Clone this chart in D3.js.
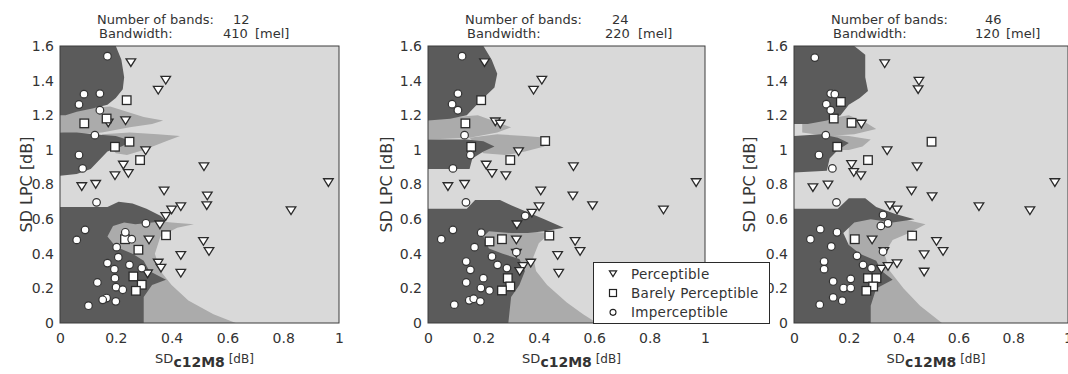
<!DOCTYPE html>
<html>
<head>
<meta charset="utf-8">
<script src="https://cdn.jsdelivr.net/npm/d3@7"></script>
<style>
  body { margin: 0; background: #fff; }
  text { font-family: "DejaVu Sans", sans-serif; fill: #333; }
</style>
</head>
<body>
<div id="chart-container"></div>
<script>
// ---- data ----
var xTicks = [0, 0.2, 0.4, 0.6, 0.8, 1];
var xTickLabels = ["0", "0.2", "0.4", "0.6", "0.8", "1"];
var yTicks = [0, 0.2, 0.4, 0.6, 0.8, 1, 1.2, 1.4, 1.6];
var yTickLabels = ["0", "0.2", "0.4", "0.6", "0.8", "1", "1.2", "1.4", "1.6"];
var bandCounts = [12, 24, 46];
var bandwidths = [410, 220, 120];
var legendLabels = ["Perceptible", "Barely Perceptible", "Imperceptible"];

// classifier regions (dark = imperceptible, mid = barely perceptible)
var dark1 = [
  [[0,1.6],[0.2,1.6],[0.22,1.52],[0.23,1.42],[0.225,1.35],[0.2,1.3],[0.17,1.26],[0.12,1.24],[0.06,1.22],[0.02,1.2],[0,1.2]],
  [[0,1.1],[0.06,1.1],[0.12,1.09],[0.2,1.08],[0.26,1.05],[0.22,1.02],[0.17,0.99],[0.14,0.94],[0.11,0.89],[0.06,0.86],[0,0.85]],
  [[0,0.67],[0.17,0.67],[0.21,0.7],[0.26,0.69],[0.31,0.66],[0.36,0.62],[0.38,0.59],[0.33,0.58],[0.27,0.57],[0.23,0.58],[0.19,0.56],[0.17,0.5],[0.2,0.44],[0.26,0.4],[0.3,0.36],[0.32,0.3],[0.38,0.25],[0.33,0.22],[0.3,0.15],[0.3,0],[0,0]]
];
var mid1 = [
  [[0,1.22],[0.1,1.24],[0.18,1.25],[0.24,1.22],[0.3,1.19],[0.37,1.17],[0.33,1.15],[0.25,1.13],[0.15,1.1],[0.05,1.09],[0,1.1]],
  [[0.15,1.09],[0.25,1.1],[0.35,1.09],[0.43,1.08],[0.38,1.05],[0.3,1.0],[0.24,0.97],[0.2,0.98]],
  [[0.15,0.6],[0.3,0.6],[0.4,0.58],[0.48,0.57],[0.42,0.55],[0.36,0.5],[0.34,0.4],[0.36,0.3],[0.4,0.22],[0.46,0.13],[0.55,0.05],[0.63,0],[0.28,0],[0.2,0.3]]
];
var dark2 = [
  [[0,1.6],[0.2,1.6],[0.23,1.52],[0.25,1.44],[0.24,1.36],[0.2,1.3],[0.17,1.25],[0.14,1.2],[0.08,1.18],[0,1.17]],
  [[0,1.06],[0.14,1.06],[0.2,1.05],[0.24,1.02],[0.2,0.99],[0.16,0.95],[0.15,0.89],[0,0.89]],
  [[0,0.66],[0.14,0.66],[0.17,0.71],[0.26,0.71],[0.3,0.68],[0.36,0.64],[0.42,0.6],[0.49,0.55],[0.42,0.53],[0.36,0.52],[0.3,0.52],[0.22,0.53],[0.2,0.5],[0.22,0.43],[0.27,0.4],[0.33,0.37],[0.35,0.3],[0.33,0.22],[0.3,0.15],[0.29,0],[0,0]]
];
var mid2 = [
  [[0,1.18],[0.1,1.19],[0.18,1.2],[0.25,1.16],[0.3,1.13],[0.25,1.1],[0.15,1.07],[0,1.06]],
  [[0.15,1.07],[0.25,1.09],[0.35,1.08],[0.43,1.07],[0.42,1.02],[0.35,0.99],[0.28,0.97],[0.2,0.98]],
  [[0.2,0.55],[0.35,0.53],[0.44,0.52],[0.4,0.46],[0.38,0.38],[0.39,0.3],[0.43,0.22],[0.5,0.12],[0.56,0.05],[0.61,0],[0.27,0],[0.2,0.3]]
];
var dark3 = [
  [[0,1.6],[0.22,1.6],[0.26,1.55],[0.26,1.42],[0.27,1.34],[0.24,1.3],[0.2,1.26],[0.17,1.2],[0.12,1.17],[0.05,1.15],[0,1.15]],
  [[0,1.08],[0.1,1.09],[0.16,1.07],[0.2,1.04],[0.16,1.0],[0.13,0.95],[0.12,0.88],[0,0.87]],
  [[0,0.66],[0.16,0.66],[0.2,0.72],[0.26,0.72],[0.3,0.67],[0.37,0.63],[0.44,0.6],[0.36,0.58],[0.28,0.6],[0.22,0.58],[0.18,0.52],[0.2,0.45],[0.24,0.4],[0.3,0.36],[0.32,0.3],[0.36,0.25],[0.3,0.2],[0.28,0.1],[0.28,0],[0,0]]
];
var mid3 = [
  [[0.03,1.16],[0.12,1.18],[0.2,1.2],[0.26,1.16],[0.3,1.12],[0.22,1.09],[0.12,1.08],[0.03,1.1]],
  [[0.1,1.09],[0.2,1.08],[0.28,1.06],[0.25,1.02],[0.2,1.0],[0.16,1.0]],
  [[0.2,0.6],[0.3,0.61],[0.4,0.6],[0.48,0.57],[0.42,0.52],[0.36,0.48],[0.33,0.4],[0.35,0.3],[0.4,0.2],[0.46,0.1],[0.54,0],[0.27,0],[0.2,0.3]]
];

// scatter points [SDc12M8, SD LPC]
var tri1 = [[0.254,1.504],[0.379,1.402],[0.352,1.345],[0.235,1.168],[0.173,1.156],[0.307,0.995],[0.516,0.903],[0.227,0.912],[0.197,0.851],[0.245,0.864],[0.078,0.788],[0.128,0.801],[0.373,0.763],[0.528,0.734],[0.526,0.678],[0.962,0.811],[0.828,0.649],[0.433,0.672],[0.4,0.653],[0.379,0.615],[0.358,0.567],[0.319,0.48],[0.514,0.471],[0.534,0.413],[0.433,0.39],[0.352,0.346],[0.362,0.317],[0.433,0.288],[0.314,0.284]];
var sq1 = [[0.239,1.287],[0.087,1.153],[0.167,1.181],[0.197,1.018],[0.249,1.047],[0.287,0.941],[0.38,0.507],[0.281,0.423],[0.263,0.269],[0.293,0.221],[0.272,0.186],[0.233,0.484]];
var circ1 = [[0.17,1.541],[0.086,1.322],[0.143,1.325],[0.068,1.262],[0.143,1.229],[0.125,1.085],[0.068,0.97],[0.081,0.893],[0.131,0.697],[0.09,0.538],[0.06,0.48],[0.308,0.576],[0.234,0.524],[0.257,0.484],[0.203,0.438],[0.209,0.38],[0.17,0.346],[0.249,0.336],[0.195,0.311],[0.197,0.259],[0.134,0.234],[0.201,0.207],[0.225,0.192],[0.167,0.144],[0.153,0.134],[0.2,0.125],[0.102,0.1],[0.293,0.317]];

var tri2 = [[0.204,1.504],[0.411,1.402],[0.381,1.345],[0.243,1.162],[0.261,1.149],[0.327,0.989],[0.525,0.903],[0.21,0.912],[0.231,0.864],[0.281,0.851],[0.072,0.788],[0.132,0.801],[0.407,0.763],[0.523,0.734],[0.594,0.678],[0.968,0.811],[0.85,0.653],[0.401,0.672],[0.375,0.634],[0.321,0.567],[0.319,0.48],[0.531,0.471],[0.549,0.413],[0.468,0.39],[0.371,0.346],[0.343,0.327],[0.472,0.288],[0.331,0.298],[0.319,0.403]];
var sq2 = [[0.192,1.287],[0.135,1.153],[0.156,1.018],[0.423,1.051],[0.297,0.941],[0.438,0.505],[0.222,0.471],[0.267,0.484],[0.288,0.259],[0.297,0.211],[0.267,0.188]];
var circ2 = [[0.123,1.541],[0.108,1.325],[0.087,1.264],[0.108,1.229],[0.132,1.085],[0.153,0.97],[0.09,0.893],[0.137,0.697],[0.09,0.538],[0.048,0.484],[0.192,0.522],[0.168,0.438],[0.138,0.355],[0.153,0.307],[0.138,0.234],[0.2,0.259],[0.191,0.202],[0.222,0.188],[0.095,0.106],[0.149,0.131],[0.165,0.14],[0.189,0.125],[0.231,0.384],[0.251,0.336],[0.285,0.317],[0.319,0.409],[0.351,0.619]];

var tri3 = [[0.331,1.498],[0.456,1.397],[0.453,1.348],[0.246,1.149],[0.34,0.995],[0.449,0.903],[0.21,0.916],[0.218,0.87],[0.244,0.851],[0.069,0.782],[0.124,0.797],[0.429,0.763],[0.504,0.73],[0.952,0.811],[0.861,0.649],[0.675,0.672],[0.35,0.678],[0.376,0.653],[0.52,0.471],[0.544,0.413],[0.475,0.394],[0.376,0.342],[0.475,0.294],[0.328,0.413],[0.285,0.48],[0.319,0.311],[0.343,0.327]];
var sq3 = [[0.171,1.277],[0.145,1.181],[0.21,1.156],[0.158,1.018],[0.502,1.047],[0.27,0.941],[0.431,0.505],[0.222,0.484],[0.27,0.259],[0.301,0.259],[0.289,0.211],[0.264,0.186]];
var circ3 = [[0.076,1.533],[0.134,1.325],[0.149,1.322],[0.118,1.264],[0.134,1.229],[0.116,1.085],[0.091,0.97],[0.14,0.893],[0.155,0.697],[0.096,0.542],[0.06,0.484],[0.157,0.524],[0.136,0.442],[0.11,0.355],[0.11,0.311],[0.143,0.24],[0.181,0.202],[0.207,0.202],[0.207,0.255],[0.143,0.148],[0.176,0.129],[0.094,0.106],[0.23,0.388],[0.252,0.336],[0.283,0.317],[0.325,0.624],[0.343,0.576],[0.317,0.561],[0.325,0.413]];

// ---- layout ----
var width = 1068, height = 374;
var plotTop = 46, plotBottom = 323;
var colLight = "#d9d9d9", colMid = "#ababab", colDark = "#5b5b5b";

var panels = [
  {left: 60,  w: 279, dark: dark1, mid: mid1, tri: tri1, sq: sq1, circ: circ1, ylabX: 32,  numX: 233, bwX: 223, melX: 255},
  {left: 428, w: 277, dark: dark2, mid: mid2, tri: tri2, sq: sq2, circ: circ2, ylabX: 392, numX: 612, bwX: 605, melX: 638},
  {left: 794, w: 274, dark: dark3, mid: mid3, tri: tri3, sq: sq3, circ: circ3, ylabX: 755, numX: 985, bwX: 975, melX: 1006}
];

var svg = d3.select("#chart-container")
    .append("svg")
    .attr("width", width)
    .attr("height", height);

function triPath(s) {
    return "M" + (-s) + "," + (-s*0.8) + "L" + s + "," + (-s*0.8) + "L0," + (s*0.8) + "Z";
}

panels.forEach(function(p, i) {
    var x = d3.scaleLinear().domain([0, 1]).range([p.left, p.left + p.w]);
    var y = d3.scaleLinear().domain([0, 1.6]).range([plotBottom, plotTop]);
    var line = d3.line()
        .x(function(d) { return x(d[0]); })
        .y(function(d) { return y(d[1]); })
        .curve(d3.curveLinearClosed);

    svg.append("clipPath").attr("id", "clip" + i)
        .append("rect")
        .attr("x", p.left).attr("y", plotTop)
        .attr("width", p.w).attr("height", plotBottom - plotTop);

    var g = svg.append("g").attr("clip-path", "url(#clip" + i + ")");

    g.append("rect")
        .attr("x", p.left).attr("y", plotTop)
        .attr("width", p.w).attr("height", plotBottom - plotTop)
        .attr("fill", colLight);

    g.selectAll("path.mid").data(p.mid).join("path")
        .attr("class", "mid")
        .attr("d", line)
        .attr("fill", colMid);

    g.selectAll("path.dark").data(p.dark).join("path")
        .attr("class", "dark")
        .attr("d", line)
        .attr("fill", colDark);

    // markers
    g.selectAll("path.tri").data(p.tri).join("path")
        .attr("class", "tri")
        .attr("transform", function(d) { return "translate(" + x(d[0]) + "," + y(d[1]) + ")"; })
        .attr("d", triPath(4.8))
        .attr("fill", "#fff").attr("stroke", "#2a2a2a").attr("stroke-width", 1.3);

    g.selectAll("rect.sq").data(p.sq).join("rect")
        .attr("class", "sq")
        .attr("x", function(d) { return x(d[0]) - 4.3; })
        .attr("y", function(d) { return y(d[1]) - 4.3; })
        .attr("width", 8.6).attr("height", 8.6)
        .attr("fill", "#fff").attr("stroke", "#2a2a2a").attr("stroke-width", 1.3);

    g.selectAll("circle.circ").data(p.circ).join("circle")
        .attr("class", "circ")
        .attr("cx", function(d) { return x(d[0]); })
        .attr("cy", function(d) { return y(d[1]); })
        .attr("r", 3.8)
        .attr("fill", "#fff").attr("stroke", "#333").attr("stroke-width", 1.2);

    // frame
    svg.append("rect")
        .attr("x", p.left).attr("y", plotTop)
        .attr("width", p.w).attr("height", plotBottom - plotTop)
        .attr("fill", "none").attr("stroke", "#3c3c3c").attr("stroke-width", 1);

    // axes
    var xAxis = svg.append("g")
        .attr("transform", "translate(0," + plotBottom + ")")
        .call(d3.axisBottom(x).tickValues(xTicks)
            .tickFormat(function(d, k) { return xTickLabels[k]; })
            .tickSize(0).tickPadding(10));
    var yAxis = svg.append("g")
        .attr("transform", "translate(" + p.left + ",0)")
        .call(d3.axisLeft(y).tickValues(yTicks)
            .tickFormat(function(d, k) { return yTickLabels[k]; })
            .tickSize(0).tickPadding(6));
    [xAxis, yAxis].forEach(function(a) {
        a.select(".domain").remove();
        a.attr("font-family", "DejaVu Sans").attr("font-size", 14);
        a.selectAll("text").attr("fill", "#333");
    });

    // axis titles
    var xl = svg.append("text")
        .attr("x", p.left + p.w / 2 + 5).attr("y", 363)
        .attr("text-anchor", "middle");
    xl.append("tspan").attr("font-size", 13).text("SD");
    xl.append("tspan").attr("font-size", 14).attr("font-weight", "bold").attr("dy", 4).text("c12M8");
    xl.append("tspan").attr("font-size", 12).attr("dy", -4).text(" [dB]");

    svg.append("text")
        .attr("transform", "translate(" + p.ylabX + "," + ((plotTop + plotBottom) / 2) + ") rotate(-90)")
        .attr("text-anchor", "middle")
        .attr("font-size", 16)
        .text("SD LPC [dB]");

    // panel title
    svg.append("text").attr("x", p.left + 37).attr("y", 24).attr("font-size", 13).text("Number of bands:");
    svg.append("text").attr("x", p.numX).attr("y", 24).attr("font-size", 13).text(bandCounts[i]);
    svg.append("text").attr("x", p.left + 39).attr("y", 38).attr("font-size", 13).text("Bandwidth:");
    svg.append("text").attr("x", p.bwX).attr("y", 38).attr("font-size", 13).text(bandwidths[i]);
    svg.append("text").attr("x", p.melX).attr("y", 38).attr("font-size", 13).text("[mel]");
});

// legend (sits in the middle panel)
var leg = svg.append("g");
leg.append("rect")
    .attr("x", 593.5).attr("y", 262.5).attr("width", 176).attr("height", 61)
    .attr("fill", "#fff").attr("stroke", "#2a2a2a").attr("stroke-width", 1);
var legRows = d3.scaleBand().domain(legendLabels).range([264, 322]);
legendLabels.forEach(function(lbl, k) {
    var cy = legRows(lbl) + legRows.bandwidth() / 2;
    if (k === 0) {
        leg.append("path").attr("transform", "translate(613," + cy + ")").attr("d", triPath(3.6))
            .attr("fill", "#fff").attr("stroke", "#222").attr("stroke-width", 1.2);
    } else if (k === 1) {
        leg.append("rect").attr("x", 609.5).attr("y", cy - 3.5).attr("width", 7).attr("height", 7)
            .attr("fill", "#fff").attr("stroke", "#222").attr("stroke-width", 1.2);
    } else {
        leg.append("circle").attr("cx", 613).attr("cy", cy).attr("r", 3)
            .attr("fill", "#fff").attr("stroke", "#222").attr("stroke-width", 1.1);
    }
    leg.append("text").attr("x", 631).attr("y", cy + 5)
        .attr("font-size", 13.5).attr("letter-spacing", 0.3).text(lbl);
});
</script>
</body>
</html>
